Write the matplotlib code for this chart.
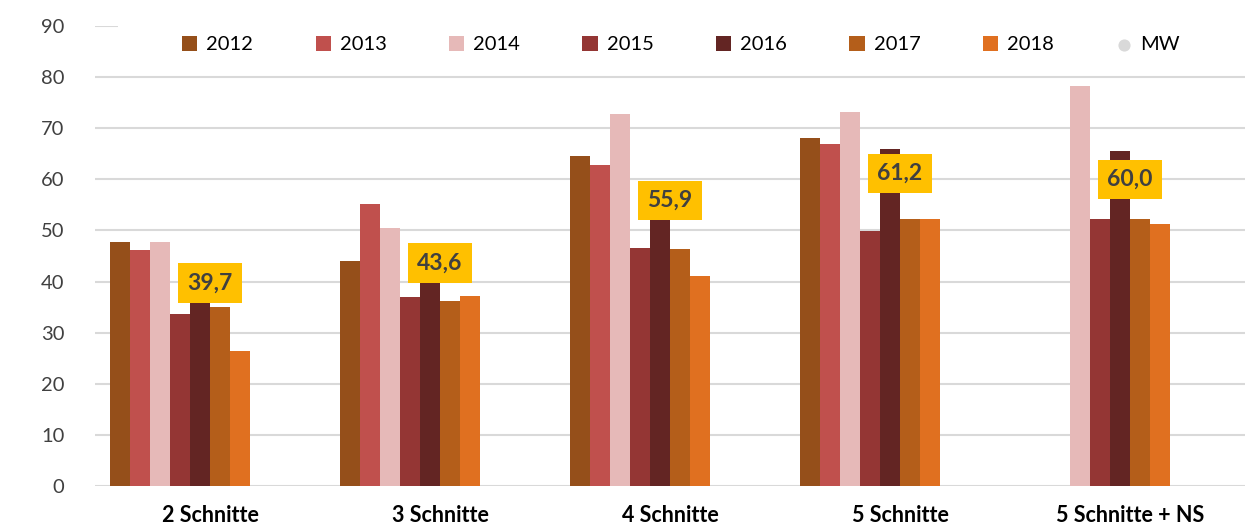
import matplotlib
matplotlib.use("Agg")
import matplotlib.pyplot as plt
from matplotlib.patches import Rectangle
import numpy as np

plt.rcParams['font.family'] = ['Lato', 'DejaVu Sans']

categories = ["2 Schnitte", "3 Schnitte", "4 Schnitte", "5 Schnitte", "5 Schnitte + NS"]
years = ["2012", "2013", "2014", "2015", "2016", "2017", "2018"]

v2012 = [47.7, 44.0, 64.6, 68.0, np.nan]
v2013 = [46.2, 55.1, 62.9, 66.9, np.nan]
v2014 = [47.7, 50.5, 72.7, 73.2, 78.3]
v2015 = [33.6, 36.9, 46.6, 49.8, 52.2]
v2016 = [38.0, 41.0, 53.5, 65.9, 65.6]
v2017 = [35.0, 36.1, 46.4, 52.2, 52.2]
v2018 = [26.4, 37.2, 41.1, 52.2, 51.2]
mw = [39.7, 43.6, 55.9, 61.2, 60.0]

series = [v2012, v2013, v2014, v2015, v2016, v2017, v2018]
colors = ["#954F1A", "#C0504D", "#E6B9B8", "#943634", "#632523", "#B45E1A", "#E07020"]

fig = plt.figure(figsize=(12.45, 5.27), dpi=100)
ax = fig.add_axes([95 / 1245, 41 / 527, 1 - 95 / 1245, 460 / 527])

x = np.arange(len(categories))
w = 0.0866
for k, (vals, col, yr) in enumerate(zip(series, colors, years)):
    ax.bar(x + (k - 4.5) * w, vals, width=w, color=col, label=yr, zorder=2)

ax.scatter(x, mw, s=60, color="#D9D9D9", label="MW", zorder=1)
for xi, m in zip(x, mw):
    ax.text(xi, m, f"{m:.1f}".replace(".", ","), ha="center", va="center",
            fontsize=16.5, fontweight="bold", color="#404040", zorder=5,
            bbox=dict(boxstyle="square,pad=0.4", fc="#FFC000", ec="none"))

ax.set_xlim(-0.5, 4.5)
ax.set_ylim(0, 90)
ax.set_yticks(range(0, 91, 10))
ax.set_xticks(x)
ax.set_xticklabels(categories, fontweight="bold", fontsize=15.5)
ax.tick_params(axis="y", labelsize=14.5, colors="#404040", length=0, pad=22)
ax.tick_params(axis="x", length=0, pad=14, labelcolor="black")
ax.yaxis.grid(True, color="#D9D9D9", linewidth=1.5, zorder=0)
ax.set_axisbelow(True)
for s in ax.spines.values():
    s.set_visible(False)

# white legend area hides the 90 gridline, as in the original
ax.add_patch(Rectangle((118 / 1245, 1 - 62 / 527), 1, 40 / 527, transform=fig.transFigure,
                       facecolor="white", edgecolor="none", zorder=3, clip_on=False))

handles, labels = ax.get_legend_handles_labels()
order = [labels.index(y) for y in years] + [labels.index("MW")]
leg = ax.legend([handles[i] for i in order], [labels[i] for i in order],
                loc="upper left", bbox_to_anchor=(176 / 1245, 1 - 30 / 527), bbox_transform=fig.transFigure,
                ncol=8, frameon=False, fontsize=14.5, handlelength=0.75, handleheight=0.75,
                handletextpad=0.45, columnspacing=3.1, borderpad=0.3, borderaxespad=0)
leg.set_zorder(6)

fig.savefig("out.png", dpi=100)
